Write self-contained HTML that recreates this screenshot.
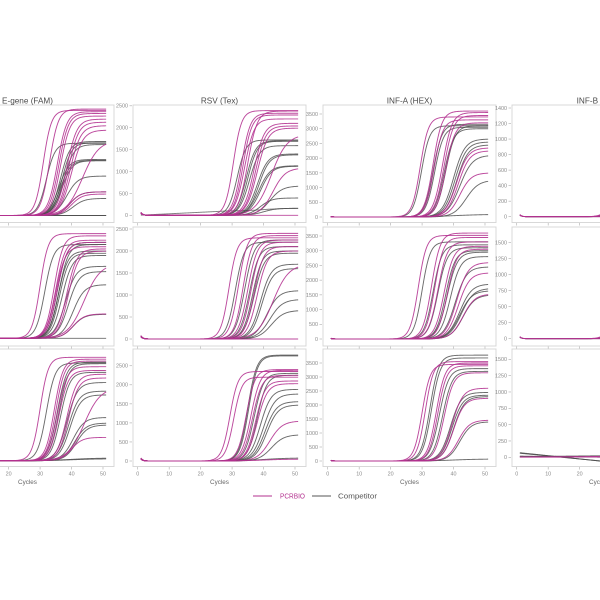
<!DOCTYPE html>
<html><head><meta charset="utf-8"><style>html,body{margin:0;padding:0;background:#fff}svg{display:block}</style></head>
<body>
<svg id="s" width="600" height="600" viewBox="0 0 600 600" xmlns="http://www.w3.org/2000/svg" style="font-family:'Liberation Sans',sans-serif">
<rect width="600" height="600" fill="#fff"/>
<g id="plots"></g>
<!-- y tick labels -->
<g font-size="5.4" fill="#8a8a8a" text-anchor="end">
<text x="128" y="217.2">0</text><text x="128" y="195.3">500</text><text x="128" y="173.4">1000</text><text x="128" y="151.5">1500</text><text x="128" y="129.6">2000</text><text x="128" y="107.7">2500</text>
<text x="318" y="218.9">0</text><text x="318" y="204.2">500</text><text x="318" y="189.5">1000</text><text x="318" y="174.8">1500</text><text x="318" y="160">2000</text><text x="318" y="145.3">2500</text><text x="318" y="130.6">3000</text><text x="318" y="115.9">3500</text>
<text x="507" y="218.6">0</text><text x="507" y="203.1">200</text><text x="507" y="187.5">400</text><text x="507" y="172">600</text><text x="507" y="156.5">800</text><text x="507" y="141">1000</text><text x="507" y="125.4">1200</text><text x="507" y="109.9">1400</text>
<text x="128" y="340.9">0</text><text x="128" y="318.9">500</text><text x="128" y="296.9">1000</text><text x="128" y="274.9">1500</text><text x="128" y="252.9">2000</text><text x="128" y="230.9">2500</text>
<text x="318" y="340.9">0</text><text x="318" y="326.2">500</text><text x="318" y="311.5">1000</text><text x="318" y="296.8">1500</text><text x="318" y="282">2000</text><text x="318" y="267.3">2500</text><text x="318" y="252.6">3000</text><text x="318" y="237.9">3500</text>
<text x="507" y="340.6">0</text><text x="507" y="324.6">250</text><text x="507" y="308.6">500</text><text x="507" y="292.6">750</text><text x="507" y="276.6">1000</text><text x="507" y="260.6">1250</text><text x="507" y="244.6">1500</text>
<text x="128" y="462.9">0</text><text x="128" y="443.9">500</text><text x="128" y="424.8">1000</text><text x="128" y="405.8">1500</text><text x="128" y="386.7">2000</text><text x="128" y="367.7">2500</text>
<text x="318" y="462.9">0</text><text x="318" y="448.9">500</text><text x="318" y="434.9">1000</text><text x="318" y="420.9">1500</text><text x="318" y="406.9">2000</text><text x="318" y="392.9">2500</text><text x="318" y="378.9">3000</text><text x="318" y="364.9">3500</text>
<text x="507" y="459.2">0</text><text x="507" y="442.9">250</text><text x="507" y="426.5">500</text><text x="507" y="410.2">750</text><text x="507" y="393.9">1000</text><text x="507" y="377.5">1250</text><text x="507" y="361.2">1500</text>
</g>
<!-- x tick labels -->
<g font-size="5.4" fill="#8a8a8a" text-anchor="middle">
<text x="8.6" y="475.5">20</text><text x="40.1" y="475.5">30</text><text x="71.6" y="475.5">40</text><text x="103" y="475.5">50</text>
<text x="137.7" y="475.5">0</text><text x="169.2" y="475.5">10</text><text x="200.6" y="475.5">20</text><text x="232.1" y="475.5">30</text><text x="263.5" y="475.5">40</text><text x="295" y="475.5">50</text>
<text x="327.7" y="475.5">0</text><text x="359.2" y="475.5">10</text><text x="390.6" y="475.5">20</text><text x="422.1" y="475.5">30</text><text x="453.5" y="475.5">40</text><text x="485" y="475.5">50</text>
<text x="516.7" y="475.5">0</text><text x="548.2" y="475.5">10</text><text x="579.6" y="475.5">20</text>
</g>
<g font-size="6.3" fill="#666" text-anchor="middle">
<text x="27.5" y="484">Cycles</text><text x="219.5" y="484">Cycles</text><text x="409.5" y="484">Cycles</text><text x="598.5" y="484">Cycles</text>
</g>
<g font-size="8.2" fill="#4a4a4a" text-anchor="middle">
<text x="27.5" y="103.5">E-gene (FAM)</text><text x="219.5" y="103.5">RSV (Tex)</text><text x="409.5" y="103.5">INF-A (HEX)</text><text x="598.5" y="103.5">INF-B (Cy5)</text>
</g>
<!-- legend -->
<line x1="253" y1="496" x2="272" y2="496" stroke="#b3308f" stroke-width="1.1"/>
<text x="280" y="498.6" font-size="7.4" fill="#b3308f" textLength="25" lengthAdjust="spacingAndGlyphs">PCRBIO</text>
<line x1="312" y1="496" x2="331" y2="496" stroke="#555" stroke-width="1.1"/>
<text x="338" y="498.6" font-size="7.4" fill="#555" textLength="39" lengthAdjust="spacingAndGlyphs">Competitor</text>
</svg>
<script>
(function(){
var NS='http://www.w3.org/2000/svg';
var root=document.getElementById('plots');
var M='#b3308f',G='#4a4a4a',W=173,PX=173/55;
var Ls=[-59,133,323,512];
var rows=[[105,222.5],[227,346],[349,466.5]];
function el(n,a){var e=document.createElementNS(NS,n);for(var k in a)e.setAttribute(k,a[k]);root.appendChild(e);return e;}
function sig(x,A,c,s){return A/(1+Math.exp(-(x-c)/s));}
var P=[
// row1
{c:0,r:0,y0:215.5,k:0.0438,sp:20,yt:[],
 m:[[2400,31,1.3],[2430,33,1.4],[2370,35.5,1.5],[2330,36,1.5],[2270,36.5,1.5],[2200,38.5,1.6],[2130,39,1.6],[2050,39.5,1.7],[1950,40,1.8],[1720,43.5,2.6],[540,39.5,1.7],[490,40,1.7]],
 g:[[1650,32,1.4],[1690,36.5,1.5],[1660,37,1.5],[1620,37.5,1.6],[1280,36,1.6],[1260,36.5,1.6],[1250,37,1.6],[900,38.5,1.8],[540,39.5,1.7],[390,40.5,1.8],[8,60,3],[4,60,3]]},
{c:1,r:0,y0:215.3,k:0.0438,sp:70,yt:[0,500,1000,1500,2000,2500],
 m:[[2390,30.4,1.3],[2330,33,1.4],[2290,33.5,1.4],[2200,34,1.5],[2380,35,1.5],[2100,37,1.6],[2040,37.5,1.6],[1990,38,1.7],[1850,42.5,2.5],[1080,43,2],[20,70,3]],
 g:[[1720,31.6,1.4],[1700,34.5,1.5],[1690,35,1.5],[1590,35.5,1.6],[1400,38,1.7],[1380,38.5,1.7],[1130,38.5,1.8],[1120,39,1.8],[670,42,2],[395,39,1.8],[160,40,2]],
 drift:100},
{c:2,r:0,y0:217,k:0.02943,sp:15,yt:[0,500,1000,1500,2000,2500,3000,3500],
 m:[[3400,29.4,1.3],[3600,33.5,1.4],[3550,36.5,1.5],[3450,37,1.5],[3300,33.8,1.4],[3200,37.5,1.5],[2350,41,1.8],[2250,41.5,1.8],[1500,42,1.8]],
 g:[[3100,29.8,1.3],[3150,33.5,1.4],[3050,34,1.4],[3000,37,1.5],[3100,37.5,1.5],[2650,40,1.8],[2550,40.5,1.8],[2450,41,1.8],[2100,42,2],[1250,44,2],[90,40,5]]},
{c:3,r:0,y0:216.7,k:0.07764,sp:30,yt:[0,200,400,600,800,1000,1200,1400],
 m:[[1300,32,1.4],[1250,33,1.4],[1200,34,1.5],[10,60,3]],
 g:[[1150,32.5,1.4],[1100,34,1.5],[5,60,3]]},
// row2
{c:0,r:1,y0:338.3,k:0.0436,sp:20,yt:[],
 m:[[2400,30,1.3],[2350,34.5,1.4],[2250,35,1.5],[2200,35.5,1.5],[2100,35,1.5],[2050,38.5,1.6],[2000,39,1.6],[1720,44,2.6],[560,40.5,1.8]],
 g:[[2150,31.5,1.4],[2200,35.5,1.5],[2150,36,1.5],[2000,35.8,1.5],[1950,36.2,1.5],[1900,37,1.6],[1650,38,1.7],[1530,39,1.7],[1230,40.5,1.8],[550,40.5,1.8],[6,60,3]]},
{c:1,r:1,y0:339,k:0.044,sp:80,yt:[0,500,1000,1500,2000,2500],
 m:[[2300,29,1.3],[2400,32,1.4],[2350,33.5,1.4],[2250,35,1.5],[2200,36,1.5],[2100,37,1.5],[2000,38,1.6],[1700,43,2.5],[20,70,3]],
 g:[[2200,31,1.4],[2250,34,1.5],[2100,35.5,1.5],[2000,36.5,1.5],[1950,37,1.6],[1700,39,1.7],[1600,39.5,1.7],[1100,41,1.9],[900,42,2],[650,42.5,2]]},
{c:2,r:1,y0:339,k:0.02943,sp:25,yt:[0,500,1000,1500,2000,2500,3000,3500],
 m:[[3520,28.8,1.3],[3600,33,1.4],[3450,34,1.4],[3300,35,1.5],[3150,37,1.5],[3050,38,1.5],[2600,41,1.8],[2250,41.5,1.8],[1530,43,1.9]],
 g:[[3300,30,1.3],[3200,33.5,1.4],[3100,35,1.5],[3000,37.5,1.5],[2950,38,1.6],[2800,39,1.6],[2450,40.5,1.8],[1870,42,1.9],[1720,42.5,1.9],[1640,42,1.9],[1500,43,1.9]]},
{c:3,r:1,y0:338.7,k:0.064,sp:35,yt:[0,250,500,750,1000,1250,1500],
 m:[[1400,32,1.4],[1300,33,1.4],[10,60,3]],
 g:[[1350,33,1.4],[1200,34,1.5],[5,60,3]]},
// row3
{c:0,r:2,y0:460.7,k:0.0376,sp:20,yt:[],
 m:[[2750,30,1.3],[2700,34.5,1.4],[2650,35,1.4],[2500,35.5,1.5],[2400,36,1.5],[2300,38.5,1.6],[2200,39,1.6],[1950,44,2.6],[620,40,1.7]],
 g:[[2600,32,1.4],[2620,35.5,1.5],[2580,36,1.5],[2350,36.5,1.5],[2080,38.5,1.7],[1850,39,1.7],[1750,39.5,1.7],[1150,40.5,1.8],[1000,41,1.8],[950,41.5,1.8],[50,40,4],[70,40,4]]},
{c:1,r:2,y0:461,k:0.0381,sp:80,yt:[0,500,1000,1500,2000,2500],
 m:[[2350,29.3,1.3],[2200,30.5,1.3],[2400,34.5,1.4],[2380,36,1.5],[2250,36.5,1.5],[2100,37.5,1.5],[2030,38,1.6],[1050,42,2],[50,40,4]],
 g:[[2780,35,1.4],[2760,35.3,1.4],[2300,37,1.5],[2250,38,1.5],[1880,39,1.7],[1760,40,1.8],[1560,40.5,1.8],[1470,41,1.8],[690,42.5,2],[80,40,4]]},
{c:2,r:2,y0:461,k:0.028,sp:25,yt:[0,500,1000,1500,2000,2500,3000,3500],
 m:[[3450,30,1.3],[3550,31,1.3],[3500,34.5,1.4],[3400,35,1.4],[3150,37,1.5],[2600,39.5,1.7],[2240,40,1.7],[1460,41.5,1.8]],
 g:[[3780,32.5,1.4],[3680,33,1.4],[3300,35.5,1.5],[3200,36.5,1.5],[2450,39,1.7],[2350,39.5,1.7],[2300,40,1.7],[1400,42,1.8],[70,40,4]]},
{c:3,r:2,y0:457.3,k:0.06533,sp:0,yt:[0,250,500,750,1000,1250,1500],m:[],g:[],special:true}
];
P.forEach(function(p){
 var L=Ls[p.c],T=rows[p.r][0],B=rows[p.r][1];
 el('rect',{x:L,y:T,width:W,height:B-T,fill:'none',stroke:'#d4d4d4','stroke-width':0.9});
 for(var t=0;t<=50;t+=10){var x=L+(t+1.5)*PX;el('line',{x1:x,y1:B+0.5,x2:x,y2:B+3,stroke:'#aaa','stroke-width':0.6});}
 p.yt.forEach(function(v){var y=p.y0-v*p.k;el('line',{x1:L-3.5,y1:y,x2:L-1,y2:y,stroke:'#aaa','stroke-width':0.6});});
 function draw(fn,col,op){
  var d='';
  for(var x=1;x<=51.001;x+=0.25){
   var v=fn(x);var X=L+(x+1.5)*PX,Y=p.y0-v*p.k;
   Y=Math.max(T+0.5,Math.min(B-0.5,Y));
   d+=(d?'L':'M')+X.toFixed(2)+' '+Y.toFixed(2);
  }
  el('path',{d:d,fill:'none',stroke:col,'stroke-width':0.95,'stroke-opacity':op,'stroke-linejoin':'round'});
 }
 var i=0;
 function sp(x,j){return p.sp*(0.6+0.4*((j*37)%10)/10)*Math.exp(-(x-1)*1.6);}
 if(p.special){
  draw(function(x){return Math.max(-58,70-5*(x-1));},G,0.9);
  draw(function(x){return Math.max(-58,62-4.6*(x-1));},G,0.85);
  draw(function(x){return 10+0.5*(x-1);},G,0.85);
  draw(function(x){return 18-0.6*(x-1);},G,0.8);
  draw(function(x){return 5+0.3*(x-1);},M,0.85);
  draw(function(x){return 2+0.1*(x-1);},M,0.85);
  return;
 }
 p.g.forEach(function(a,j){draw(function(x){return sig(x,a[0],a[1],a[2])+sp(x,j);},G,0.82);});
 if(p.drift){draw(function(x){return p.drift*Math.min(x,29)/29+sig(x,60,40,3);},G,0.7);}
 p.m.forEach(function(a,j){draw(function(x){return sig(x,a[0],a[1],a[2])+sp(x,j+3);},M,0.88);});
});
})();
</script>
</body></html>
